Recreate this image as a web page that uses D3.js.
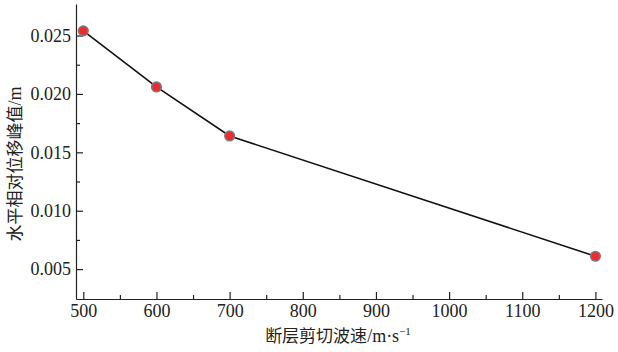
<!DOCTYPE html>
<html lang="zh">
<head>
  <meta charset="UTF-8">
  <title>断层剪切波速与水平相对位移峰值</title>
  <script src="https://d3js.org/d3.v7.min.js"></script>
  <style>
    body { margin: 0; background: #fff; }
  </style>
</head>
<body>
  <svg width="618" height="352"></svg>
  <script>
    // shear wave velocity of fault (m/s)
    const velocities = [500, 600, 700, 1200];
    // peak horizontal relative displacement (m)
    const peakDisp = [0.0254, 0.0206, 0.0164, 0.0061];
    const xTicks = [500, 600, 700, 800, 900, 1000, 1100, 1200];
    const yTicks = [0.005, 0.010, 0.015, 0.020, 0.025];
    const xMinor = [550, 650, 750, 850, 950, 1050, 1150];
    const yMinor = [0.0075, 0.0125, 0.0175, 0.0225];

    const serif = "Liberation Serif";
    const cjk = "Noto Sans CJK SC";

    const svg = d3.select("svg");
    const x = d3.scaleLinear().domain([490, 1209]).range([76, 602]);
    const y = d3.scaleLinear().domain([0.00244, 0.0277]).range([299, 4]);

    // minor ticks
    svg.append("g")
      .attr("transform", "translate(0,299)")
      .call(d3.axisBottom(x).tickValues(xMinor).tickSize(-4).tickFormat(""))
      .call(g => g.select(".domain").remove());
    svg.append("g")
      .attr("transform", "translate(76,0)")
      .call(d3.axisLeft(y).tickValues(yMinor).tickSize(-4).tickFormat(""))
      .call(g => g.select(".domain").remove());

    // X axis
    svg.append("g")
      .attr("transform", "translate(0,299)")
      .call(d3.axisBottom(x).tickValues(xTicks).tickSizeInner(-7).tickSizeOuter(0).tickPadding(5).tickFormat(d3.format("d")));

    // Y axis
    svg.append("g")
      .attr("transform", "translate(76,0)")
      .call(d3.axisLeft(y).tickValues(yTicks).tickSizeInner(-7).tickSizeOuter(0).tickPadding(5).tickFormat(d3.format(".3f")));

    svg.selectAll(".domain, .tick line").attr("stroke", "#222").attr("stroke-width", 1.2);
    svg.selectAll(".tick text")
      .attr("font-family", serif)
      .attr("font-size", 18)
      .attr("fill", "#222");

    const data = velocities.map((v, i) => ({v, d: peakDisp[i]}));

    svg.append("path")
      .datum(data)
      .attr("fill", "none")
      .attr("stroke", "#111")
      .attr("stroke-width", 1.6)
      .attr("d", d3.line().x(d => x(d.v)).y(d => y(d.d)));

    svg.selectAll("circle")
      .data(data)
      .join("circle")
      .attr("cx", d => x(d.v))
      .attr("cy", d => y(d.d))
      .attr("r", 4.8)
      .attr("fill", "#ee2a2e")
      .attr("stroke", "#7a7a7a")
      .attr("stroke-width", 1.6);

    // X label
    const xl = svg.append("text")
      .attr("x", 338)
      .attr("y", 342)
      .attr("font-size", 17)
      .attr("fill", "#222")
      .attr("text-anchor", "middle");
    xl.append("tspan").attr("font-family", cjk).text("断层剪切波速");
    xl.append("tspan").attr("font-family", serif).attr("font-size", 18).text("/m·s");
    xl.append("tspan").attr("font-family", serif).attr("dy", -7).attr("font-size", 11).text("−1");

    // Y label
    const yl = svg.append("text")
      .attr("transform", "translate(21,164) rotate(-90)")
      .attr("font-size", 17)
      .attr("fill", "#222")
      .attr("text-anchor", "middle");
    yl.append("tspan").attr("font-family", cjk).text("水平相对位移峰值");
    yl.append("tspan").attr("font-family", serif).attr("font-size", 18).text("/m");
  </script>
</body>
</html>
